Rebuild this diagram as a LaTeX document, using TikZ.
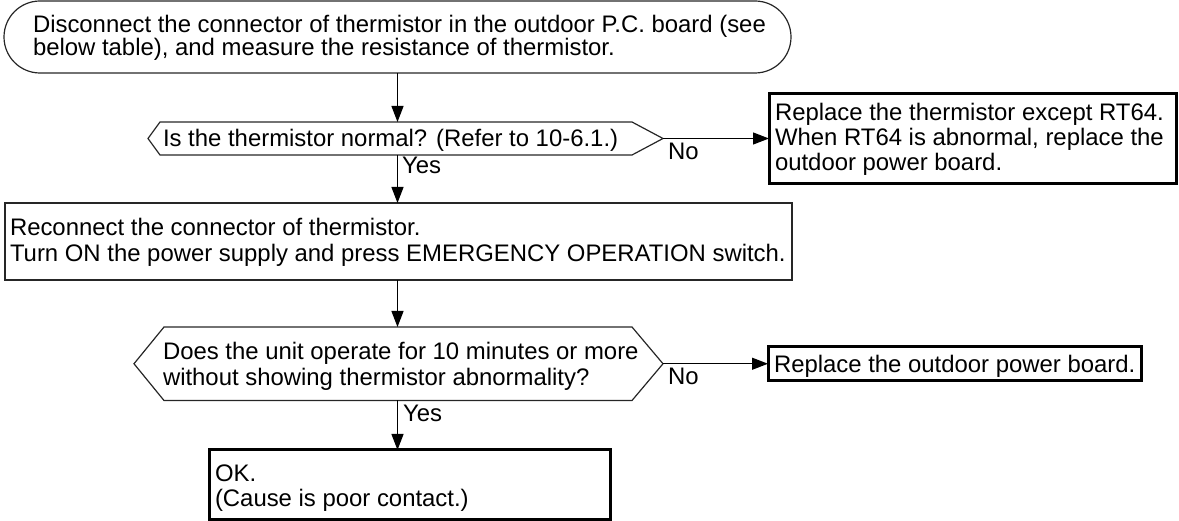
\documentclass[tikz,border=0pt]{standalone}
\usepackage{fontspec}
\setmainfont{Liberation Sans}
\usetikzlibrary{arrows.meta,calc}
\newcommand{\mlines}[1]{\begin{tabular}[t]{@{}l@{}}#1\end{tabular}}
\begin{document}
\begin{tikzpicture}[x=1pt,y=-1pt,
  shapebox/.style={draw=none, inner sep=0pt, outer sep=0pt},
  thinline/.style={draw=black!85, line width=1.2pt},
  thinbox/.style={draw=black!85, line width=1.2pt, inner sep=0pt, outer sep=0pt},
  thickbox/.style={draw=black, line width=3pt, inner sep=0pt, outer sep=0pt},
  txt/.style={anchor=base west, inner sep=0pt, outer sep=0pt, font=\fontsize{23.9}{#1}\selectfont},
  txt/.default=25,
  flow/.style={draw=black, line width=1.2pt, -{Triangle[length=16pt,width=12pt]}}]
\useasboundingbox (0,0) rectangle (1179,521);

% start terminator
\node[shapebox, minimum width=787pt, minimum height=72pt] (start) at (397.5,37) {};
\draw[thinline] ([xshift=36pt]start.north west) -- ([xshift=-36pt]start.north east)
  arc[start angle=-90, end angle=90, x radius=36, y radius=36]
  -- ([xshift=36pt]start.south west)
  arc[start angle=90, end angle=270, x radius=36, y radius=36] -- cycle;
\node[txt=18] (t0) at (33,32.3) {\mlines{Disconnect the connector of thermistor in the outdoor P.C. board (see\\below table), and measure the resistance of thermistor.}};

% decision 1
\node[shapebox, minimum width=515pt, minimum height=33pt] (d1) at (405.5,138.5) {};
\draw[thinline] (d1.west) -- ([xshift=12pt]d1.north west) -- ([xshift=-31pt]d1.north east)
  -- (d1.east) -- ([xshift=-31pt]d1.south east) -- ([xshift=12pt]d1.south west) -- cycle;
\node[txt] (t1) at (163,147) {Is the thermistor normal? (Refer to 10-6.1.)};

% replace 1
\node[thickbox, minimum width=407pt, minimum height=90pt] (r1) at (972.5,139) {};
\node[txt=24.6] (t2) at (775,120.7) {\mlines{Replace the thermistor except RT64.\\When RT64 is abnormal, replace the\\outdoor power board.}};

% reconnect
\node[thinbox, minimum width=787pt, minimum height=77pt] (rc) at (398.5,241.5) {};
\node[txt=25.7] (t3) at (10,236) {\mlines{Reconnect the connector of thermistor.\\Turn ON the power supply and press EMERGENCY OPERATION switch.}};

% decision 2
\node[shapebox, minimum width=529pt, minimum height=73.5pt] (d2) at (398.5,363.75) {};
\draw[thinline] (d2.west) -- ([xshift=30pt]d2.north west) -- ([xshift=-31pt]d2.north east)
  -- (d2.east) -- ([xshift=-31pt]d2.south east) -- ([xshift=30pt]d2.south west) -- cycle;
\node[txt=26] (t4) at (163,359.3) {\mlines{Does the unit operate for 10 minutes or more\\without showing thermistor abnormality?}};

% replace 2
\node[thickbox, minimum width=373pt, minimum height=34pt] (r2) at (954.5,364) {};
\node[txt] (t5) at (774,372.5) {Replace the outdoor power board.};

% OK
\node[thickbox, minimum width=401pt, minimum height=69pt] (ok) at (409.5,484.5) {};
\node[txt=24.5] (t6) at (215,482) {\mlines{OK.\\(Cause is poor contact.)}};

% connectors
\draw[flow] (start.south) -- (start.south |- d1.north);
\draw[flow] (start.south |- d1.south) -- (start.south |- rc.north);
\draw[flow] (d1.east) -- (d1.east -| r1.west);
\draw[flow] (start.south |- rc.south) -- (start.south |- d2.north);
\draw[flow] (d2.east) -- (d2.east -| r2.west);
\draw[flow] (start.south |- d2.south) -- (start.south |- ok.north);

% labels
\node[txt] (yes1) at (402,174) {Yes};
\node[txt] (no1) at (668,160) {No};
\node[txt] (no2) at (668,385) {No};
\node[txt] (yes2) at (403,421) {Yes};
\end{tikzpicture}
\end{document}
